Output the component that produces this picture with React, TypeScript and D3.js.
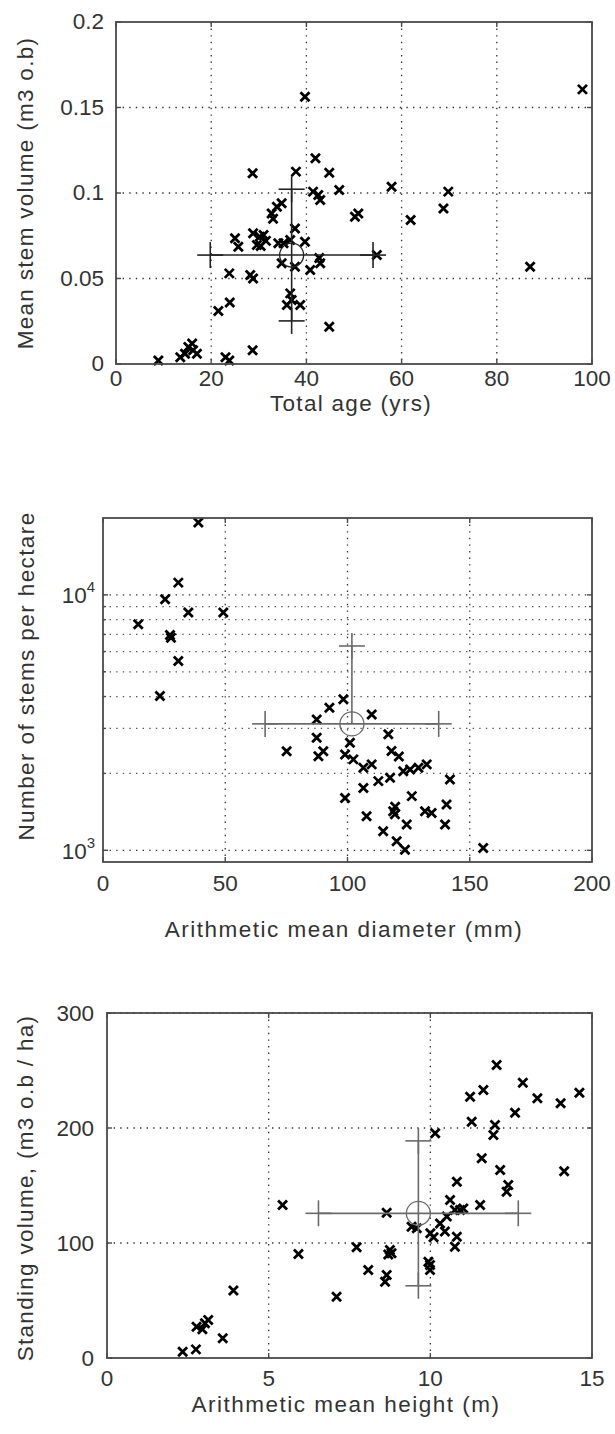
import React from 'react';
import * as d3 from 'd3';

// ---------- Panel 1: Mean stem volume vs total age ----------
const p1Age = [8.9, 13.5, 14.5, 15.2, 16.2, 17, 16, 23, 23.8, 28.7, 21.5, 23.9, 23.8, 28.2, 28.8, 28.7, 25, 25.7, 28.8, 30.2, 31, 29.6, 30.4, 31.5, 32.7, 33.8, 34.8, 33, 34.1, 35.2, 34.8, 37.6, 36.6, 37.6, 39.7, 40.8, 42.9, 42.7, 36.6, 36.9, 35.9, 38.7, 44.8, 39.7, 37.8, 41.9, 44.8, 41.4, 42.5, 42.9, 46.9, 50.2, 50.9, 54.8, 57.9, 61.9, 68.8, 69.8, 87, 98];
const p1Vol = [0.002, 0.004, 0.006, 0.010, 0.008, 0.006, 0.012, 0.004, 0.002, 0.008, 0.031, 0.036, 0.053, 0.052, 0.050, 0.1115, 0.0735, 0.0686, 0.0764, 0.0744, 0.0754, 0.0696, 0.069, 0.072, 0.088, 0.092, 0.094, 0.085, 0.0706, 0.0706, 0.0589, 0.0569, 0.0725, 0.0793, 0.0715, 0.055, 0.0589, 0.062, 0.0413, 0.0374, 0.0345, 0.0345, 0.0218, 0.1563, 0.1125, 0.1203, 0.1119, 0.1008, 0.0988, 0.0959, 0.1018, 0.0861, 0.088, 0.0637, 0.1037, 0.0842, 0.091, 0.1008, 0.0569, 0.1606];
const p1XTicks = [0, 20, 40, 60, 80, 100];
const p1YTicks = [0, 0.05, 0.1, 0.15, 0.2];
const p1YLabels = ['0', '0.05', '0.1', '0.15', '0.2'];
const p1Mean = [36.9, 0.0637];
const p1Sd = [17.1, 0.0385];

// ---------- Panel 2: stems per hectare vs mean diameter ----------
const p2Diam = [39, 30.8, 25.4, 34.9, 49.2, 14.4, 27.4, 27.8, 30.8, 23.3, 75.1, 87.4, 87.4, 90.1, 88.1, 92.6, 98.3, 99, 99, 109.9, 116.7, 101, 102.4, 106.5, 109.9, 106.5, 112.6, 117.4, 122.8, 125.6, 129, 132.4, 141.9, 126.3, 107.8, 118.7, 119.4, 124.2, 114.6, 131.7, 134.4, 140.5, 139.9, 120.1, 123.5, 155.5, 118, 119.5, 121];
const p2Stems = [19200, 11170, 9620, 8540, 8540, 7680, 6970, 6800, 5510, 4020, 2445, 3250, 2757, 2445, 2337, 3612, 3900, 2370, 1603, 3400, 2845, 2636, 2270, 2105, 2170, 1754, 1866, 1924, 2040, 2072, 2105, 2170, 1893, 1630, 1360, 1422, 1384, 1262, 1188, 1422, 1400, 1510, 1262, 1085, 1006, 1021, 2450, 1480, 2330];
const p2XTicks = [0, 50, 100, 150, 200];
const p2YMajor = [1000, 10000];
const p2YExp = ['3', '4'];
const p2YMinor = [2000, 3000, 4000, 5000, 6000, 7000, 8000, 9000];
const p2Mean = [101.8, 3126];
const p2Sd = [35.5, 3184];

// ---------- Panel 3: standing volume vs mean height ----------
const p3Height = [5.43, 5.92, 3.91, 7.10, 2.77, 3.03, 3.13, 2.95, 3.58, 2.34, 2.75, 8.65, 7.72, 8.75, 8.8, 8.7, 8.08, 8.65, 8.60, 9.42, 9.58, 10.0, 10.1, 9.94, 9.99, 9.99, 10.30, 10.51, 10.61, 10.76, 10.92, 11.02, 10.82, 10.45, 10.82, 10.76, 11.54, 10.15, 11.28, 11.59, 12.16, 12.41, 12.36, 11.95, 12.0, 11.23, 11.64, 12.05, 12.86, 13.31, 12.62, 14.03, 14.61, 14.14];
const p3Vol = [133, 90.4, 58.6, 53.3, 27.2, 30.2, 33, 25, 17.1, 5.5, 7.5, 126.4, 96.3, 93.9, 91, 90, 76.5, 72.2, 66.4, 114.2, 112.8, 108.4, 105, 83.7, 80.9, 76.5, 117, 123, 137.4, 128.7, 128.7, 130, 153.3, 110, 105.5, 96.8, 133, 195.4, 205.5, 173.6, 163.5, 150.4, 144.6, 193.9, 202.6, 227.2, 233, 254.8, 239.4, 225.8, 213.3, 221.5, 230.7, 162.3];
const p3XTicks = [0, 5, 10, 15];
const p3YTicks = [0, 100, 200, 300];
const p3Mean = [9.63, 125.8];
const p3Sd = [3.09, 63];

const FONT = '"Liberation Sans", Arial, sans-serif';
const TXT = '#333';
const FRAME = '#4a4a4a';
const GRID = '#333';
const PLUS = 13;
const FS = 22.5;

function XMark({ x, y }: { x: number; y: number }) {
  const s = 4.5;
  return (
    <path
      d={`M${x - s},${y - s}L${x + s},${y + s}M${x - s},${y + s}L${x + s},${y - s}`}
      stroke="#000"
      strokeWidth={2.8}
      fill="none"
    />
  );
}

function Cross({ cx, cy, x0, x1, y0, y1, color }: any) {
  const els: any[] = [];
  els.push(<line key="h" x1={x0} x2={x1} y1={cy} y2={cy} stroke={color} strokeWidth={1.6} />);
  const yl = y1 == null ? cy : y1;
  els.push(<line key="v" x1={cx} x2={cx} y1={y0} y2={yl} stroke={color} strokeWidth={1.6} />);
  const plus = (px: number, py: number, k: string) => (
    <g key={k}>
      <line x1={px - PLUS} x2={px + PLUS} y1={py} y2={py} stroke={color} strokeWidth={1.6} />
      <line x1={px} x2={px} y1={py - PLUS} y2={py + PLUS} stroke={color} strokeWidth={1.6} />
    </g>
  );
  els.push(plus(x0, cy, 'pl'));
  els.push(plus(x1, cy, 'pr'));
  els.push(plus(cx, y0, 'pt'));
  if (y1 != null) els.push(plus(cx, y1, 'pb'));
  els.push(<circle key="c" cx={cx} cy={cy} r={12} fill="none" stroke={color} strokeWidth={1.3} />);
  return <g>{els}</g>;
}

function Frame({ L, T, R, B }: any) {
  return <rect x={L} y={T} width={R - L} height={B - T} fill="none" stroke={FRAME} strokeWidth={1.8} />;
}

function Panel1() {
  const L = 116, T = 22, R = 592, B = 364;
  const xs = d3.scaleLinear().domain([0, 100]).range([L, R]);
  const ys = d3.scaleLinear().domain([0, 0.2]).range([B, T]);
  return (
    <g>
      {p1XTicks.filter((t) => t > 0 && t < 100).map((t) => (
        <line key={'gx' + t} x1={xs(t)} x2={xs(t)} y1={T} y2={B} stroke={GRID} strokeWidth={1.3} strokeDasharray="1.4 5.2" />
      ))}
      {p1YTicks.filter((t) => t > 0 && t < 0.2).map((t) => (
        <line key={'gy' + t} x1={L} x2={R} y1={ys(t)} y2={ys(t)} stroke={GRID} strokeWidth={1.3} strokeDasharray="1.4 5.2" />
      ))}
      {p1XTicks.map((t) => (
        <g key={'tx' + t}>
          <line x1={xs(t)} x2={xs(t)} y1={B} y2={B - 5} stroke={FRAME} strokeWidth={1.4} />
          <line x1={xs(t)} x2={xs(t)} y1={T} y2={T + 5} stroke={FRAME} strokeWidth={1.4} />
          <text x={xs(t)} y={B + 22} textAnchor="middle" fontSize={FS} fill={TXT}>{t}</text>
        </g>
      ))}
      {p1YTicks.map((t, i) => (
        <g key={'ty' + t}>
          <line x1={L} x2={L + 5} y1={ys(t)} y2={ys(t)} stroke={FRAME} strokeWidth={1.4} />
          <line x1={R} x2={R - 5} y1={ys(t)} y2={ys(t)} stroke={FRAME} strokeWidth={1.4} />
          <text x={L - 12} y={ys(t)} dy="0.33em" textAnchor="end" fontSize={FS} fill={TXT}>{p1YLabels[i]}</text>
        </g>
      ))}
      {p1Age.map((a, i) => <XMark key={'m' + i} x={xs(a)} y={ys(p1Vol[i])} />)}
      <Cross
        cx={xs(p1Mean[0])} cy={ys(p1Mean[1])}
        x0={xs(p1Mean[0] - p1Sd[0])} x1={xs(p1Mean[0] + p1Sd[0])}
        y0={ys(p1Mean[1] + p1Sd[1])} y1={ys(p1Mean[1] - p1Sd[1])}
        color="#222"
      />
      <Frame L={L} T={T} R={R} B={B} />
      <text x={351} y={411} textAnchor="middle" fontSize={FS} letterSpacing={1.3} fill={TXT}>Total age (yrs)</text>
      <text transform={`translate(33,${193}) rotate(-90)`} textAnchor="middle" fontSize={FS} letterSpacing={1.3} fill={TXT}>Mean stem volume (m3 o.b)</text>
    </g>
  );
}

function Panel2() {
  const L = 103, T = 518, R = 592, B = 862;
  const xs = d3.scaleLinear().domain([0, 200]).range([L, R]);
  const ys = d3.scaleLog().domain([900, 20000]).range([B, T]);
  const lower = p2Mean[1] - p2Sd[1];
  return (
    <g>
      {p2XTicks.filter((t) => t > 0 && t < 200).map((t) => (
        <line key={'gx' + t} x1={xs(t)} x2={xs(t)} y1={T} y2={B} stroke={GRID} strokeWidth={1.3} strokeDasharray="1.4 5.2" />
      ))}
      {[...p2YMajor, ...p2YMinor].map((t) => (
        <line key={'gy' + t} x1={L} x2={R} y1={ys(t)} y2={ys(t)} stroke={p2YMajor.includes(t) ? GRID : '#555'} strokeWidth={1.3} strokeDasharray="1.4 5.2" />
      ))}
      {p2XTicks.map((t) => (
        <g key={'tx' + t}>
          <line x1={xs(t)} x2={xs(t)} y1={B} y2={B - 5} stroke={FRAME} strokeWidth={1.4} />
          <line x1={xs(t)} x2={xs(t)} y1={T} y2={T + 5} stroke={FRAME} strokeWidth={1.4} />
          <text x={xs(t)} y={B + 29} textAnchor="middle" fontSize={FS} fill={TXT}>{t}</text>
        </g>
      ))}
      {[...p2YMajor, ...p2YMinor].map((t) => {
        const len = p2YMajor.includes(t) ? 5 : 3;
        return (
          <g key={'ty' + t}>
            <line x1={L} x2={L + len} y1={ys(t)} y2={ys(t)} stroke={FRAME} strokeWidth={1.4} />
            <line x1={R} x2={R - len} y1={ys(t)} y2={ys(t)} stroke={FRAME} strokeWidth={1.4} />
          </g>
        );
      })}
      {p2YMajor.map((t, i) => (
        <text key={'yl' + t} x={L - 8} y={ys(t)} dy="0.38em" textAnchor="end" fontSize={FS} fill={TXT}>
          10<tspan dy={-11} fontSize={15}>{p2YExp[i]}</tspan>
        </text>
      ))}
      {p2Diam.map((a, i) => <XMark key={'m' + i} x={xs(a)} y={ys(p2Stems[i])} />)}
      <Cross
        cx={xs(p2Mean[0])} cy={ys(p2Mean[1])}
        x0={xs(p2Mean[0] - p2Sd[0])} x1={xs(p2Mean[0] + p2Sd[0])}
        y0={ys(p2Mean[1] + p2Sd[1])} y1={lower > 0 ? ys(lower) : null}
        color="#6a6a6a"
      />
      <Frame L={L} T={T} R={R} B={B} />
      <text x={344} y={937} textAnchor="middle" fontSize={FS} letterSpacing={1.5} fill={TXT}>Arithmetic mean diameter (mm)</text>
      <text transform={`translate(34,${676}) rotate(-90)`} textAnchor="middle" fontSize={FS} letterSpacing={1.4} fill={TXT}>Number of stems per hectare</text>
    </g>
  );
}

function Panel3() {
  const L = 107, T = 1013, R = 592, B = 1358;
  const xs = d3.scaleLinear().domain([0, 15]).range([L, R]);
  const ys = d3.scaleLinear().domain([0, 300]).range([B, T]);
  return (
    <g>
      {p3XTicks.filter((t) => t > 0 && t < 15).map((t) => (
        <line key={'gx' + t} x1={xs(t)} x2={xs(t)} y1={T} y2={B} stroke={GRID} strokeWidth={1.3} strokeDasharray="1.4 5.2" />
      ))}
      {p3YTicks.filter((t) => t > 0).map((t) => (
        <line key={'gy' + t} x1={L} x2={R} y1={ys(t)} y2={ys(t)} stroke={GRID} strokeWidth={1.3} strokeDasharray="1.4 5.2" />
      ))}
      {p3XTicks.map((t) => (
        <g key={'tx' + t}>
          <line x1={xs(t)} x2={xs(t)} y1={B} y2={B - 5} stroke={FRAME} strokeWidth={1.4} />
          <line x1={xs(t)} x2={xs(t)} y1={T} y2={T + 5} stroke={FRAME} strokeWidth={1.4} />
          <text x={xs(t)} y={B + 28} textAnchor="middle" fontSize={FS} fill={TXT}>{t}</text>
        </g>
      ))}
      {p3YTicks.map((t) => (
        <g key={'ty' + t}>
          <line x1={L} x2={L + 5} y1={ys(t)} y2={ys(t)} stroke={FRAME} strokeWidth={1.4} />
          <line x1={R} x2={R - 5} y1={ys(t)} y2={ys(t)} stroke={FRAME} strokeWidth={1.4} />
          <text x={L - 13} y={ys(t)} dy="0.35em" textAnchor="end" fontSize={FS} fill={TXT}>{t}</text>
        </g>
      ))}
      {p3Height.map((a, i) => <XMark key={'m' + i} x={xs(a)} y={ys(p3Vol[i])} />)}
      <Cross
        cx={xs(p3Mean[0])} cy={ys(p3Mean[1])}
        x0={xs(p3Mean[0] - p3Sd[0])} x1={xs(p3Mean[0] + p3Sd[0])}
        y0={ys(p3Mean[1] + p3Sd[1])} y1={ys(p3Mean[1] - p3Sd[1])}
        color="#6a6a6a"
      />
      <Frame L={L} T={T} R={R} B={B} />
      <text x={346} y={1412} textAnchor="middle" fontSize={FS} letterSpacing={1.5} fill={TXT}>Arithmetic mean height (m)</text>
      <text transform={`translate(33,${1188}) rotate(-90)`} textAnchor="middle" fontSize={FS} letterSpacing={1.3} fill={TXT}>Standing volume, (m3 o.b / ha)</text>
    </g>
  );
}

export default function App() {
  return (
    <div style={{ position: 'absolute', left: 0, top: 0 }}>
      <svg width={615} height={1434} style={{ display: 'block', background: '#fff', fontFamily: FONT }}>
        <rect x={0} y={0} width={615} height={1434} fill="#fff" />
        <Panel1 />
        <Panel2 />
        <Panel3 />
      </svg>
    </div>
  );
}
